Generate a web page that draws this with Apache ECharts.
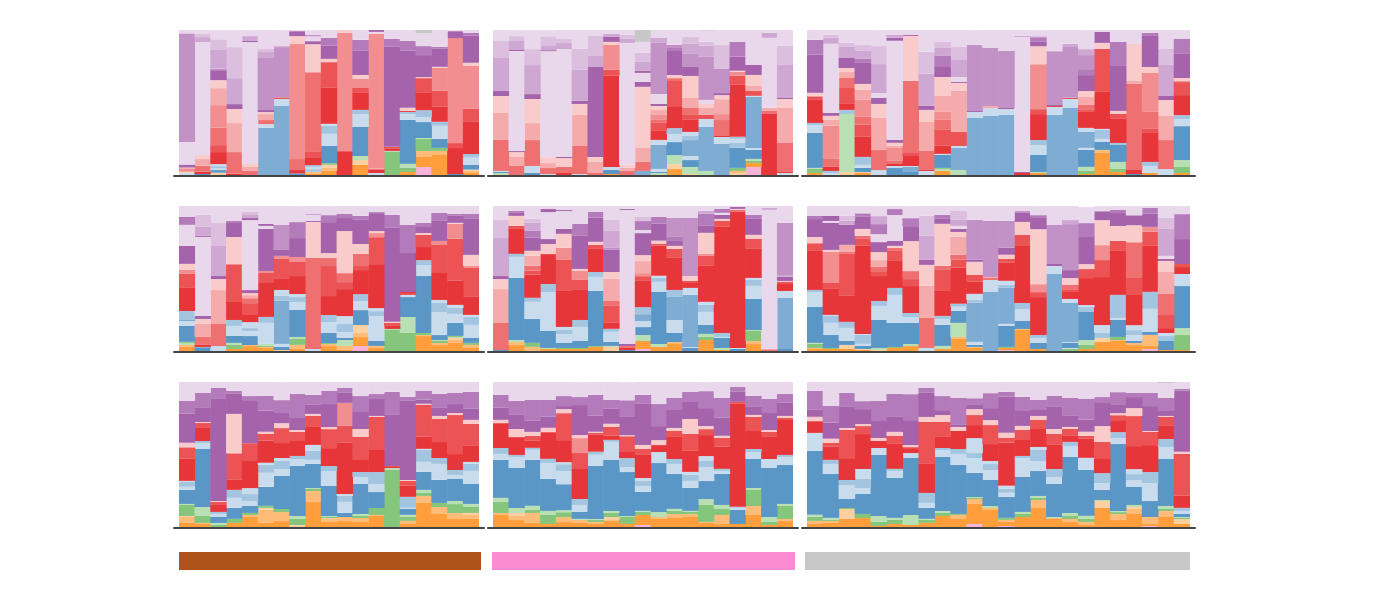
<!DOCTYPE html>
<html><head><meta charset="utf-8">
<script src="https://cdn.jsdelivr.net/npm/echarts@6/dist/echarts.min.js"></script>
<style>html,body{margin:0;padding:0;background:#fff}#chart{width:1400px;height:600px}</style>
</head><body><div id="chart"></div>
<script>
// taxon keys -> colours (family shades)
const taxonColors = {
  P:'#f8b4d8', O:'#ff9e3b', LO:'#ffbb78', PE:'#fdd0a2', G:'#86c57c', LG:'#b9dfb4',
  DB:'#5b97c6', MB:'#7facd2', LB:'#a3c5e0', PB:'#c8dcee',
  R1:'#e6363a', R2:'#eb5354', R3:'#ef7071', R4:'#f28e8f', R5:'#f5abab', R6:'#f9cbcb',
  U1:'#a563ac', U2:'#b47bbb', U3:'#c291c6', U4:'#cfa7d3', U5:'#dcbfdf', U6:'#e9d8eb', GR:'#c7c7c7'
};

// each bar: segments bottom -> top as [taxon, percent, taxon, percent, ...]
const panel1 = [
 ['PB',1.5,'PE',0.7,'R4',2,'R5',1,'U1',2,'U6',15.5,'U3',74.7,'U5',1,'U6',2],
 ['DB',0.7,'R1',1.6,'R3',4.1,'R5',4.6,'R6',2.8,'U6',77.9,'U4',3.4,'U5',2.1,'U6',2.8],
 ['PE',1.6,'DB',1.8,'PB',1.1,'LB',1.6,'PB',1.4,'R1',8.3,'R2',4.8,'R3',12,'R4',15.6,'R5',11.7,'R6',5.5,'U1',6.9,'U3',1.1,'U4',13.3,'U5',6.9,'U6',6.2],
 ['R1',0.9,'R3',14.9,'R5',20,'R6',9.7,'U1',3.4,'U4',17.9,'U5',21.4,'U6',11.7],
 ['R3',2.8,'R5',2.8,'R6',2,'U6',84.1,'U1',0.7,'U4',3.4,'U6',4.1],
 ['MB',32.6,'PB',2.5,'R3',2.8,'R5',4.1,'R6',1.4,'U1',1.4,'U3',35.9,'U4',4.1,'U5',2.1,'U6',13.1],
 ['MB',47.6,'PB',4.8,'R2',1.1,'U3',34.7,'U4',0.7,'U6',11],
 ['DB',1.1,'R1',2.3,'R3',7.6,'R4',79.3,'R6',5.5,'U1',3.4,'U6',0.7],
 ['O',1.1,'LO',1.1,'LB',1.8,'PB',1.4,'LB',1.4,'R1',5.5,'R2',4.1,'R3',54.5,'R6',19.3,'U1',2.1,'U6',3.4,'U1',0.7,'U6',3.4],
 ['O',2.8,'LO',2.1,'PE',2.1,'G',1.1,'DB',12,'PB',8.3,'LB',5.5,'PB',1.4,'R1',24.8,'R2',17.2,'R3',0.7,'R6',2.1,'U1',9,'U2',5.5,'U6',5.5],
 ['R1',15.9,'R2',0.7,'R4',81.4,'R6',2.1],
 ['O',6.9,'PE',3.4,'LG',2.8,'DB',20,'PB',9,'LB',2.8,'R1',11.7,'R2',3.4,'R4',6.2,'R6',2.8,'U1',16.6,'U2',7.6,'U6',6.9],
 ['PB',1.4,'R1',2.1,'R3',0.9,'R4',92.9,'U6',1.4,'U1',1.3],
 ['G',15.9,'LG',0.7,'R1',1.4,'R2',1.4,'U1',69,'U2',5.5,'U6',6.2],
 ['O',2.1,'G',2.8,'LG',2.8,'DB',30.3,'PB',4.1,'LB',1.4,'R1',0.7,'R6',2.1,'U1',39.3,'U2',6.9,'U6',7.6],
 ['P',5.5,'O',6.9,'LO',4.1,'G',8.3,'LG',0.7,'DB',11,'PB',3.4,'LB',4.8,'R1',12.4,'R2',9.7,'R6',0.7,'U1',15.2,'U2',6.2,'U6',9,'GR',2.1],
 ['O',13.8,'LO',2.8,'G',2.1,'DB',6.2,'PB',9,'LB',2.8,'R1',10.3,'R2',11,'R4',15.9,'R6',0.7,'U1',12.4,'U2',1.4,'U6',11.7],
 ['DB',0.7,'R1',17.9,'R2',3.4,'R4',72.4,'U1',4.8,'U6',0.7],
 ['O',1.4,'LO',1.4,'PE',0.9,'DB',3.2,'PB',5.1,'LB',2.5,'R1',22.1,'R2',9,'R4',29.7,'R6',2.1,'U1',18.6,'U2',2.1,'U6',2.1]
];
const panel2 = [
 ['LG',1.4,'DB',0.7,'PB',0.7,'R3',21.4,'R5',18.6,'R6',11.7,'U1',3.4,'U4',22.8,'U5',11.7,'U6',7.6],
 ['R3',6.2,'R5',6.2,'R6',3.4,'U1',0.7,'U6',69,'U1',0.7,'U4',6.2,'U5',3.4,'U6',4.1],
 ['DB',1.4,'PB',4.8,'R3',17.9,'R5',11.7,'R6',16.6,'U1',3.4,'U4',20,'U5',11,'U6',13.1],
 ['PB',0.7,'R3',4.1,'R5',3.4,'R6',4.1,'U6',73.1,'U1',0.7,'U4',3.4,'U5',6.2,'U6',4.1],
 ['R1',1.4,'R3',4.1,'R6',6.2,'U1',0.7,'U6',74.5,'U4',4.1,'U5',2.8,'U6',6.2],
 ['PB',0.7,'R3',19.3,'R5',21.4,'R6',7.6,'U1',2.1,'U4',21.4,'U5',14.5,'U6',13.1],
 ['R3',1.4,'R5',7.6,'R6',3.4,'U1',62.1,'U4',7.6,'U5',13.8,'U6',4.1],
 ['O',0.7,'DB',2.8,'PB',2.1,'R1',62.8,'R2',4.1,'R4',17.2,'R6',2.1,'U1',3.4,'U4',2.1,'U6',2.8],
 ['R3',2.8,'R5',2.1,'R6',2.1,'U6',84.1,'U4',2.8,'U5',2.8,'U6',3.4],
 ['MB',2.8,'R3',6.2,'R5',9.7,'R6',42.1,'U1',3.4,'U6',6.2,'U1',1.4,'U4',6.2,'U5',6.2,'U6',7.6,'GR',8.3],
 ['LG',1.4,'DB',0.7,'PB',2.1,'MB',16.6,'PB',3.4,'R1',6.2,'R2',5.5,'R3',2.1,'R4',3.4,'R5',3.4,'R6',2.8,'U1',1.4,'U6',6.9,'U3',35.2,'U4',3.4,'U6',5.5],
 ['O',4.1,'PE',3.4,'LG',6.2,'DB',9,'PB',5.5,'LB',4.1,'R1',15.2,'R2',17.9,'R3',1.4,'R6',2.1,'U1',16.6,'U2',2.1,'U3',2.1,'U6',10.3],
 ['PE',0.7,'LG',4.8,'DB',4.8,'PB',2.8,'MB',11,'LB',2.8,'PB',2.8,'R1',8.3,'R2',3.4,'R3',4.8,'R5',6.9,'R6',15.2,'U1',6.2,'U3',9,'U4',6.9,'U5',4.8,'U6',4.8],
 ['LG',2.8,'MB',30.3,'PB',5.5,'R2',2.8,'R5',4.8,'R6',2.8,'U6',2.8,'U3',29.7,'U4',7.6,'U5',2.8,'U6',7.6,'GR',0.7],
 ['MB',21.4,'PB',4.8,'R1',0.7,'R3',11,'R4',4.1,'R5',10.3,'R6',2.8,'U1',1.4,'U3',16.6,'U5',16.6,'U6',10.4],
 ['PE',1.4,'LO',1.4,'G',2.1,'DB',13.8,'LB',3.4,'PB',2.8,'LB',1.4,'R1',35.9,'R2',6.2,'R4',2.8,'R6',0.7,'U1',9.7,'U2',10.3,'U6',8.3],
 ['P',5.5,'O',2.8,'G',1.4,'LG',1.4,'DB',6.2,'PB',1.4,'MB',35.2,'PB',0.7,'R2',3.4,'R5',3.4,'R6',7.6,'U1',6.9,'U6',24.1],
 ['R1',42.1,'R3',2.1,'R5',2.1,'U6',48.3,'U4',3.4,'U6',2.1],
 ['PB',1.4,'R1',0.7,'R3',20,'R5',24.1,'R6',6.2,'U1',0.7,'U4',22.8,'U5',13.1,'U6',11]
];
const panel3 = [
 ['O',1.4,'G',2.8,'LG',0.7,'DB',24.1,'PB',5.5,'LB',1.4,'R1',15.9,'R2',2.1,'R4',0.7,'R6',2.1,'U1',26.2,'U2',10.3,'U6',6.9],
 ['PB',1.4,'LB',1.4,'R1',2.8,'R3',5.5,'R4',22.8,'R5',4.1,'R6',2.8,'U1',2.1,'U6',47.6,'U4',4.1,'U5',2.1,'U6',3.4],
 ['PE',2.1,'LG',40,'LB',2.8,'R1',4.1,'R2',11,'R3',6.9,'R5',4.1,'R6',2.8,'U1',6.9,'U4',7.6,'U5',2.8,'U6',9],
 ['O',1.4,'PE',0.7,'DB',2.8,'PB',2.1,'LB',5.5,'R1',13.8,'R2',8.3,'R3',5.5,'R4',11.7,'R5',6.9,'R6',4.1,'U1',14.5,'U2',2.8,'U4',5.5,'U5',4.1,'U6',10.3],
 ['PB',3.4,'R3',13.8,'R5',22.1,'R6',9.7,'U1',4.1,'U6',3.4,'U4',20,'U5',12.4,'U6',11],
 ['DB',4.8,'PB',1.4,'R1',1.4,'R3',2.1,'R4',9,'R5',1.4,'R6',2.1,'U1',2.1,'U6',68.3,'U1',2.1,'U4',2.1,'U6',3.4],
 ['DB',2.1,'MB',3.4,'PB',0.7,'R1',6.9,'R2',2.1,'R3',49.7,'R6',31,'U1',0.7,'U6',3.4],
 ['PB',2.8,'R1',0.7,'R3',13.1,'R5',20,'R6',8.3,'U1',2.8,'U4',22.1,'U5',15.2,'U6',15.2],
 ['O',2.8,'LG',1.4,'G',0.7,'DB',9,'PB',0.7,'R1',5.5,'R2',11,'R3',6.9,'R4',5.5,'R5',11,'R6',13.1,'U1',6.9,'U2',7.6,'U4',5.5,'U5',4.1,'U6',8.3],
 ['LG',3.4,'MB',15.2,'PB',1.4,'R2',9.7,'R5',28.3,'R6',5.5,'U1',0.7,'U6',3.4,'U4',11.7,'U5',9,'U6',11.7],
 ['MB',39.3,'PB',4.1,'U1',0.7,'U3',45.5,'U6',10.3],
 ['MB',40.7,'PB',5.5,'R5',1.4,'U3',40,'U6',12.4],
 ['MB',41.4,'PB',4.1,'U1',0.7,'U3',39.3,'U6',14.5],
 ['R1',1.4,'U1',0.7,'U6',93.1,'U4',0.7,'U6',4.1],
 ['O',1.4,'LG',0.7,'DB',11.7,'PB',6.9,'LB',3.4,'R1',17.9,'R2',3.4,'R4',31,'R6',12.4,'U1',3.4,'U2',2.8,'U4',0.7,'U6',4.1],
 ['MB',41.4,'PB',5.5,'R2',0.7,'U1',0.7,'U3',36.6,'U4',0.7,'U6',14.5],
 ['MB',46.2,'PB',6.2,'R2',0.7,'U4',0.7,'U3',34.5,'U4',2.1,'U6',9.7],
 ['O',0.7,'G',2.1,'LG',2.8,'DB',11.7,'PB',1.4,'MB',11,'PB',2.8,'R1',11,'R2',1.4,'R3',3.4,'R5',5.5,'R6',4.1,'U1',11,'U2',4.1,'U3',9.7,'U4',4.1,'U6',13.1],
 ['O',15.2,'LO',2.1,'DB',5.5,'PB',2.1,'LB',6.2,'PB',0.7,'R1',25.5,'R2',29.7,'R6',4.1,'U1',7.6,'U6',1.4],
 ['O',2.1,'G',2.1,'LG',4.8,'DB',11.7,'LB',1.4,'R1',16.6,'R2',3.4,'R6',2.1,'U1',31,'U2',16.6,'U6',8.3],
 ['DB',0.7,'R1',2.8,'R3',59.3,'R5',2.1,'R6',25.5,'U6',9.7],
 ['O',1.4,'PB',4.8,'LB',2.8,'R1',20,'R2',2.8,'R3',11.7,'R4',26.9,'R6',4.1,'U1',21.4,'U2',2.1,'U6',2.1],
 ['PB',4.1,'R3',20,'R5',16.6,'R6',11,'U1',2.8,'U4',21.4,'U5',11,'U6',13.1],
 ['O',1.4,'G',4.1,'LG',4.8,'DB',23.4,'PB',4.8,'LB',2.8,'R1',13.8,'R2',9,'R4',0.7,'R6',2.1,'U1',16.6,'U2',10.3,'U6',6.2]
];
const panel4 = [
 ['O',2.8,'LO',1.4,'LG',1.4,'G',0.7,'DB',11,'PB',3.4,'MB',0.7,'LB',6.2,'R1',15.9,'R2',9.7,'R4',2.8,'R6',4.1,'U1',12.4,'U6',14.5,'U2',4.8,'U1',0.7,'U6',7.6],
 ['DB',2.1,'MB',0.7,'R1',1.4,'R3',5.5,'R5',9,'R6',3.4,'U1',2.1,'U6',54.5,'U1',0.7,'U4',6.2,'U5',8.3,'U6',6.2],
 ['PB',3.4,'R3',15.2,'R5',23.4,'R6',7.6,'U1',2.1,'U4',20.7,'U5',15.9,'U6',11.7],
 ['O',1.4,'G',2.8,'LG',1.4,'DB',4.8,'PB',6.9,'LB',4.1,'R1',12.4,'R2',25.5,'R4',0.7,'R6',18.6,'U1',9.7,'U2',1.4,'U6',10.3],
 ['O',3.4,'LO',0.7,'DB',6.2,'PB',3.4,'LB',2.1,'PB',4.1,'R1',5.5,'R2',7.6,'R3',3.4,'R5',2.1,'R6',1.4,'U1',2.1,'U6',48.3,'U1',1.4,'U4',2.1,'U5',2.1,'U6',4.1],
 ['O',2.1,'LO',0.7,'G',0.7,'LG',1.4,'PB',14.5,'LB',4.1,'R1',23.4,'R2',6.9,'R4',1.4,'U1',29,'U6',2.1,'U1',1.4,'U6',12.4],
 ['PE',0.7,'DB',2.1,'PB',2.1,'MB',29.7,'LB',3.4,'PB',4.1,'R1',7.6,'R2',13.8,'R4',2.1,'U1',4.1,'U3',17.2,'U6',13.1],
 ['O',1.4,'LO',2.8,'G',4.1,'LG',1.4,'DB',18.6,'PB',5.5,'LB',3.4,'PB',2.1,'R1',12.4,'R2',9.7,'R4',3.4,'U1',13.1,'U2',11,'U6',11],
 ['PB',1.4,'R3',62.8,'R6',24.8,'U1',0.7,'U6',4.1,'U4',0.7,'U6',5.5],
 ['O',3.4,'LO',1.4,'G',0.7,'DB',6.9,'PB',7.6,'LB',4.8,'R1',13.1,'R2',20.7,'R3',5.5,'R6',3.4,'U1',21.4,'U2',4.8,'U6',6.2],
 ['O',0.7,'LO',2.8,'LG',4.1,'DB',1.4,'PB',4.1,'LB',5.5,'PB',5.5,'R1',18.6,'R2',4.8,'R3',6.2,'R6',29,'U1',9,'U2',2.8,'U6',5.5],
 ['P',3.4,'O',6.2,'LO',2.8,'PE',5.5,'DB',10.3,'PB',6.2,'LB',4.8,'R1',16.6,'R2',2.8,'R3',8.3,'R6',6.9,'U1',16.6,'U2',2.8,'U6',6.9],
 ['O',2.1,'LO',1.4,'DB',3.4,'PB',17.2,'LB',3.4,'PB',2.1,'R1',30.3,'R2',18.6,'R4',2.8,'R6',1.4,'U1',12.4,'U2',0.7,'U6',4.1],
 ['G',14.5,'LG',0.7,'R1',2.1,'R2',2.1,'R6',0.7,'U1',64.8,'U2',9,'U6',6.2],
 ['G',12.4,'LG',11,'DB',13.8,'PB',1.4,'R2',1.4,'R1',0.7,'U1',26.9,'U2',19.3,'U6',13.1],
 ['O',10.3,'LO',0.7,'G',1.4,'DB',39.3,'PB',7.6,'LB',3.4,'R1',9,'R2',8.3,'R6',1.4,'U1',4.1,'U2',2.8,'U6',11.7],
 ['O',4.1,'LO',1.4,'G',1.4,'LG',0.7,'DB',3.4,'PB',15.9,'LB',6.2,'PB',2.1,'R1',18.6,'R2',19.3,'R4',2.8,'U1',13.8,'U2',5.5,'U6',4.8],
 ['O',5.5,'LO',2.1,'PE',1.4,'LG',0.7,'G',0.7,'DB',9,'PB',6.2,'LB',4.1,'PB',2.1,'R1',16.6,'R2',29,'R4',10.3,'R6',0.7,'U1',4.8,'U2',1.4,'U6',5.5],
 ['O',2.1,'LO',2.1,'G',1.4,'DB',3.4,'PB',9,'LB',5.5,'PB',1.4,'R1',12.4,'R2',20,'R4',1.4,'R6',7.6,'U1',24.8,'U2',3.4,'U6',5.5]
];
const panel5 = [
 ['DB',0.7,'R3',18.6,'R5',23.4,'R6',6.9,'U1',2.1,'U4',26.2,'U5',12.4,'U6',9.7],
 ['O',4.1,'LO',2.1,'LG',1.4,'DB',42.8,'PB',14.5,'LB',2.1,'R1',17.2,'R2',2.1,'R6',6.9,'U1',2.1,'U2',1.4,'U6',3.4],
 ['LO',2.8,'G',2.8,'DB',16.6,'PB',11.7,'LB',2.8,'R1',15.9,'R2',2.8,'R3',3.4,'R5',6.9,'R6',3.4,'U1',9,'U2',4.8,'U4',5.5,'U5',2.8,'U6',9],
 ['O',1.4,'LG',0.7,'DB',11.7,'PB',26.9,'LB',5.5,'R1',20,'R2',0.7,'R6',6.9,'U1',3.4,'U6',18.6,'U1',2.1,'U6',2.1],
 ['O',1.4,'G',0.7,'DB',3.4,'PB',6.2,'LB',2.8,'PB',2.1,'R1',24.8,'R2',21.4,'R4',8.3,'R6',9.7,'U1',3.4,'U6',12.4,'U1',0.7,'U6',2.8],
 ['O',1.4,'G',0.7,'DB',4.8,'PB',9.7,'LB',4.8,'R1',20.7,'R2',6.9,'R4',6.2,'R6',1.4,'U1',22.8,'U2',8.3,'U6',12.4],
 ['O',2.8,'G',0.7,'DB',37.9,'PB',9.7,'LB',3.4,'R1',15.9,'R2',2.8,'R6',2.1,'U1',16.6,'U2',4.1,'U6',4.1],
 ['PE',2.8,'LG',0.7,'DB',2.8,'PB',6.9,'LB',2.1,'R1',4.1,'R2',11.7,'R3',3.4,'R5',15.2,'R6',4.8,'U1',15.2,'U3',1.4,'U4',11.7,'U5',7.6,'U6',9.7],
 ['DB',0.7,'R1',1.4,'R3',1.4,'U1',1.4,'U6',92.4,'U1',0.7,'U6',2.1],
 ['P',1.4,'O',5.5,'LG',4.1,'DB',5.5,'PB',4.1,'MB',4.8,'LB',4.8,'R1',18.6,'R2',2.8,'R4',2.1,'R5',8.3,'R6',4.1,'U1',15.2,'U6',2.1,'U2',6.2,'U5',2.8,'U6',7.6],
 ['O',2.8,'LG',2.1,'DB',35.9,'PB',6.9,'LB',2.8,'PB',1.4,'R1',20.7,'R2',1.4,'R6',2.1,'U1',11.7,'U2',4.8,'U6',7.6],
 ['O',4.8,'LO',1.4,'DB',6.2,'PB',9,'MB',15.9,'LB',4.8,'R1',22.1,'R2',6.2,'R6',2.1,'U1',3.4,'U2',2.8,'U3',13.1,'U6',8.3],
 ['DB',2.1,'PB',0.7,'MB',35.9,'PB',4.8,'R1',3.4,'R2',1.4,'R6',3.4,'U3',40,'U6',8.3],
 ['O',7.6,'G',2.1,'LG',2.1,'DB',6.2,'PB',9,'LB',4.8,'PB',2.1,'R1',24.8,'R2',6.9,'R4',1.4,'R6',14.5,'U1',4.8,'U2',8.3,'U4',2.1,'U6',3.4],
 ['O',0.7,'LG',1.4,'DB',6.9,'PB',0.7,'LB',2.8,'R1',73.1,'R2',4.1,'R6',1.4,'U1',2.8,'U6',1.4,'U2',2.8,'U6',2.1],
 ['DB',1.4,'PB',0.7,'R1',93.8,'R3',1.4,'R6',0.7,'U1',1.4,'U6',0.7],
 ['O',4.8,'LO',2.1,'G',6.9,'LG',0.7,'DB',21.4,'PB',9,'LB',4.1,'PB',1.4,'R1',20,'R2',6.9,'R6',2.8,'U1',11,'U2',2.8,'U6',6.2],
 ['R3',0.7,'R5',0.7,'U6',95.9,'U4',1.4,'U6',1.4],
 ['DB',1.4,'MB',35.2,'PB',4.8,'R1',4.8,'R2',1.4,'R6',0.7,'U1',2.8,'U4',1.4,'U3',35.9,'U6',11.7]
];
const panel6 = [
 ['O',1.4,'LO',0.7,'G',2.8,'LG',0.7,'DB',24.8,'PB',10.3,'LB',1.4,'R1',26.9,'R2',4.8,'R4',0.7,'R6',4.1,'U1',12.4,'U2',2.1,'U6',6.9],
 ['O',1.4,'G',0.7,'DB',9,'PB',8.3,'LB',4.8,'PB',0.7,'R1',17.9,'R2',4.1,'R4',21.4,'R6',1.4,'U1',18.6,'U6',1.4,'U1',3.4,'U6',6.9],
 ['O',1.4,'PE',2.8,'DB',2.8,'PB',9,'LB',4.1,'R1',17.9,'R2',29,'R3',1.4,'R5',4.8,'U1',13.8,'U4',2.8,'U5',3.4,'U6',6.9],
 ['O',0.7,'PE',0.7,'DB',2.1,'PB',1.4,'LB',6.2,'PB',0.7,'R1',60.7,'R2',4.8,'R3',2.1,'R6',4.8,'U1',8.3,'U2',2.1,'U4',0.7,'U6',4.8],
 ['PE',0.7,'LG',1.4,'DB',19.3,'PB',9.7,'LB',3.4,'R1',17.2,'R2',2.8,'R3',3.4,'R5',4.8,'R6',5.5,'U1',6.9,'U6',5.5,'U2',6.9,'U4',5.5,'U6',6.9],
 ['O',2.1,'G',0.7,'DB',16.6,'PB',19.3,'LB',4.8,'R1',18.6,'R2',6.9,'R3',2.1,'R6',1.4,'U1',3.4,'U6',17.9,'U2',4.1,'U6',2.1],
 ['O',3.4,'LG',1.4,'DB',14.5,'PB',4.1,'LB',2.8,'R1',18.6,'R2',4.8,'R3',5.5,'R6',20.7,'U1',10.3,'U2',5.5,'U6',8.3],
 ['PB',2.1,'R3',20.7,'R5',22.1,'R6',14.5,'U1',3.4,'U4',16.6,'U5',13.8,'U6',6.8],
 ['O',1.4,'LG',2.1,'DB',14.5,'PB',4.1,'LB',2.1,'R1',17.2,'R2',14.5,'R3',2.8,'R6',29,'U1',3.4,'U2',2.8,'U6',6.2],
 ['O',8.3,'LO',1.4,'LG',9.7,'DB',8.3,'PB',2.8,'LB',2.1,'R1',24.8,'R2',5.5,'R3',3.4,'R5',12.4,'R6',3.4,'U1',2.1,'U6',2.1,'U4',4.1,'U5',6.2,'U6',3.4],
 ['O',2.1,'LO',0.7,'DB',1.4,'PB',2.1,'MB',26.9,'LB',2.1,'PB',4.1,'R1',8.3,'R2',4.8,'R6',9,'U1',1.4,'U3',27.6,'U6',9.7],
 ['MB',40.7,'PB',8.3,'R3',1.4,'R5',0.7,'U3',38.6,'U6',10.3],
 ['P',0.7,'O',1.4,'G',0.7,'DB',14.5,'PB',1.4,'MB',24.8,'LB',2.1,'PB',2.8,'R1',12.4,'R2',2.8,'R6',2.8,'U1',4.8,'U3',18.6,'U6',10.3],
 ['O',14.5,'LO',0.7,'DB',5.5,'PB',8.3,'LB',4.1,'R1',39.3,'R2',7.6,'R6',9,'U1',6.2,'U3',1.4,'U6',3.4],
 ['O',1.4,'DB',4.1,'PB',3.4,'LB',2.1,'R1',26.2,'R2',3.4,'R4',5.5,'R6',37.9,'U1',8.3,'U2',1.4,'U6',6.2],
 ['MB',53.1,'PB',5.5,'U1',1.4,'U3',26.9,'U6',13.1],
 ['G',1.4,'PB',0.7,'DB',3.4,'PB',0.7,'MB',26.9,'PB',2.8,'R1',4.8,'R2',1.4,'R3',3.4,'R6',4.8,'U1',5.5,'U3',31.7,'U4',2.8,'U6',9.7],
 ['O',1.4,'G',2.8,'LG',3.4,'DB',19.3,'LB',3.4,'PB',1.4,'R1',18.6,'R2',6.2,'R6',3.4,'U1',19.3,'U2',9,'U6',11],
 ['O',6.2,'PE',2.8,'LB',3.4,'PB',5.5,'R1',33.1,'R2',11.7,'R4',10.3,'R6',17.2,'U1',6.2,'U6',3.4],
 ['O',6.9,'LO',0.7,'G',2.1,'DB',11.7,'PB',1.4,'LB',15.9,'R1',30.3,'R2',6.9,'R6',10.3,'U1',9,'U2',2.1,'U6',2.8],
 ['O',4.1,'LO',1.4,'DB',1.4,'PB',4.1,'LB',3.4,'PB',3.4,'R1',21.4,'R2',11.7,'R3',24.1,'R6',11.7,'U1',6.9,'U6',6.2],
 ['P',1.4,'O',2.1,'LO',7.6,'DB',2.1,'PB',15.9,'LB',11.7,'R1',31.7,'R2',9.7,'R4',3.4,'U1',9,'U2',4.1,'U6',1.4],
 ['O',0.7,'DB',6.2,'LB',3.4,'PB',2.1,'R1',3.4,'R2',9,'R3',14.5,'R5',15.2,'R6',7.6,'U1',1.4,'U6',2.1,'U4',18.6,'U5',7.6,'U6',8.3],
 ['O',0.7,'G',10.3,'LG',4.8,'DB',29,'PB',8.3,'R1',4.8,'R2',2.1,'U1',17.2,'U2',17.2,'U6',5.5]
];
const panel7 = [
 ['O',2.8,'LO',4.1,'PE',0.7,'G',7.6,'LG',0.7,'DB',9.7,'PB',2.1,'LB',3.4,'PB',0.7,'R1',15.2,'R2',7.6,'R4',0.7,'R6',2.8,'U1',20,'U2',9,'U6',13.1],
 ['O',2.1,'LO',0.7,'G',4.8,'LG',6.2,'DB',40,'PB',4.1,'LB',1.4,'R1',9,'R2',3.4,'R6',0.7,'U1',9.7,'U2',10.3,'U6',7.6],
 ['G',1.4,'LG',1.4,'DB',4.1,'PB',2.1,'LB',1.4,'R1',4.8,'R2',2.1,'R6',0.7,'U1',70.3,'U2',7.6,'U6',4.1],
 ['O',2.8,'G',2.8,'DB',7.6,'PB',6.9,'LB',5.5,'R1',6.9,'R2',17.9,'R4',0.7,'R6',26.9,'U1',13.8,'U2',2.1,'U6',6.2],
 ['O',6.9,'LO',1.4,'G',1.4,'DB',4.8,'PB',3.4,'LB',4.8,'PB',4.1,'R1',19.3,'R2',11.7,'U1',29.7,'U2',2.8,'U6',9.7],
 ['O',2.8,'LO',9,'PE',1.4,'G',1.4,'DB',13.1,'PB',9.7,'LB',5.5,'PB',1.4,'R1',15.2,'R2',4.8,'R6',1.4,'U1',14.5,'U2',10.3,'U6',9.7],
 ['O',4.1,'LO',6.2,'G',2.1,'DB',22.8,'PB',4.8,'LB',5.5,'PB',2.1,'R1',10.3,'R2',10.3,'R6',3.4,'U1',7.6,'U2',8.3,'U6',12.4],
 ['PE',1.4,'G',4.1,'LG',2.1,'DB',34.5,'PB',4.8,'LB',2.1,'R1',10.3,'R2',6.2,'R6',1.4,'U1',8.3,'U2',16.6,'U6',8.3],
 ['O',17.2,'LO',7.6,'G',1.4,'LG',0.7,'DB',16.6,'PB',2.8,'LB',6.2,'PB',4.1,'R1',12.4,'R2',7.6,'R6',1.4,'U1',6.2,'U2',6.9,'U6',9],
 ['O',3.4,'LO',2.1,'PE',0.7,'G',0.7,'LG',0.7,'DB',20.7,'PB',10.3,'LB',3.4,'R1',12.4,'R2',13.1,'R6',1.4,'U1',15.9,'U2',9,'U6',6.2],
 ['O',4.1,'LO',2.8,'DB',2.8,'PB',7.6,'LB',4.1,'PB',1.4,'R1',35.2,'R2',11.7,'R4',15.9,'U1',6.9,'U2',3.4,'U6',4.1],
 ['O',3.4,'LO',2.8,'G',1.4,'LG',1.4,'DB',20.7,'PB',4.8,'LB',3.4,'R1',8.3,'R2',15.9,'R6',5.5,'U1',11.7,'U2',11,'U6',9.7],
 ['O',7.6,'LO',0.7,'G',4.8,'DB',11,'PB',5.5,'LB',8.3,'R1',15.2,'R2',22.8,'R6',0.7,'U1',11.7,'U2',3.4,'U6',8.3],
 ['G',39.3,'LG',1.4,'R1',0.7,'R2',0.7,'U1',35.2,'U2',15.9,'U6',6.9],
 ['O',2.1,'LO',2.1,'G',2.8,'LG',1.4,'DB',4.1,'PB',0.7,'LB',7.6,'R1',7.6,'R2',3.4,'R6',0.7,'U1',54.5,'U2',2.8,'U6',10.3],
 ['O',16.6,'LO',4.8,'G',2.1,'LG',2.1,'DB',12.4,'PB',6.9,'LB',8.3,'PB',0.7,'R1',8.3,'R2',22.1,'R6',0.7,'U1',2.8,'U2',6.2,'U6',6.2],
 ['O',9,'LO',4.8,'G',2.8,'DB',15.9,'PB',11,'LB',4.1,'R1',11,'R2',15.9,'R6',2.1,'U1',5.5,'U2',9.7,'U6',8.3],
 ['O',5.5,'LO',4.1,'G',6.2,'LG',2.1,'DB',15.2,'PB',2.8,'LB',3.4,'R1',11,'R2',26.9,'R6',1.4,'U1',6.2,'U2',7.6,'U6',7.6],
 ['O',5.5,'LO',2.8,'PE',1.4,'G',4.1,'LG',2.1,'DB',13.8,'PB',9,'LB',4.8,'PB',1.4,'R1',11,'R2',15.2,'R6',2.8,'U1',7.6,'U2',11.7,'U6',6.9]
];
const panel8 = [
 ['O',8.3,'LO',1.4,'G',7.6,'LG',2.8,'DB',26.2,'PB',4.1,'LB',4.1,'R1',16.6,'R2',0.7,'R6',2.1,'U1',8.3,'U2',9,'U6',9],
 ['O',4.8,'LO',2.8,'PE',2.1,'LG',3.4,'DB',27.6,'PB',7.6,'LB',1.4,'R1',11.7,'R2',0.7,'R6',5.5,'U1',9.7,'U2',9.7,'U6',13.1],
 ['O',2.8,'LO',6.9,'G',2.1,'LG',2.8,'DB',31.7,'PB',6.9,'LB',1.4,'R1',4.8,'R2',3.4,'R6',2.8,'U1',7.6,'U2',14.5,'U6',12.4],
 ['O',2.1,'G',6.2,'LG',2.8,'DB',22.1,'PB',11,'LB',2.8,'R1',17.9,'R2',0.7,'R6',2.8,'U1',7.6,'U2',11.7,'U6',12.4],
 ['O',3.4,'LO',3.4,'G',3.4,'LG',1.4,'DB',17.9,'PB',9,'LB',4.8,'PB',1.4,'R1',15.2,'R2',18.6,'R6',2.8,'U1',2.1,'U2',6.9,'U6',9.7],
 ['O',2.8,'LO',2.1,'LG',0.7,'DB',4.8,'PB',4.8,'LB',4.1,'R1',20.7,'R2',11,'R4',10.3,'R6',2.1,'U1',20.7,'U2',5.5,'U6',10.3],
 ['O',2.1,'LO',1.4,'G',1.4,'LG',0.7,'DB',36.6,'PB',7.6,'LB',2.1,'R1',11.7,'R2',1.4,'R6',0.7,'U1',11,'U2',14.5,'U6',9],
 ['O',4.1,'LO',0.7,'PE',2.1,'G',2.8,'LG',1.4,'DB',35.2,'PB',12.4,'LB',1.4,'R1',2.8,'R2',6.2,'R6',2.1,'U1',10.3,'U2',6.2,'U6',12.4],
 ['O',2.1,'G',4.8,'LG',0.7,'DB',30.3,'PB',3.4,'LB',6.2,'R1',4.8,'R2',10.3,'R6',0.7,'U1',13.1,'U2',11,'U6',12.4],
 ['P',1.4,'O',6.9,'G',2.1,'LG',0.7,'DB',13.1,'PB',4.1,'LB',3.4,'PB',2.1,'R1',15.9,'R2',4.1,'R6',2.8,'U1',28.3,'U2',6.2,'U6',9],
 ['O',5.5,'LO',1.4,'LG',3.4,'DB',33.8,'PB',7.6,'R1',4.8,'R6',3.4,'U1',9.7,'U2',15.2,'U6',15.2],
 ['O',6.2,'LO',2.8,'G',2.1,'LG',1.4,'DB',24.1,'PB',6.9,'LB',3.4,'R1',15.2,'R2',4.1,'R6',2.1,'U1',12.4,'U2',8.3,'U6',11],
 ['O',6.9,'LO',2.1,'G',1.4,'LG',0.7,'DB',15.9,'PB',4.8,'LB',4.1,'PB',2.1,'R1',14.5,'R2',11.7,'R6',10.3,'U1',11.7,'U2',6.9,'U6',6.9],
 ['O',2.8,'LO',0.7,'G',11.7,'LG',4.1,'DB',12.4,'PB',9.7,'LB',4.1,'PB',3.4,'R1',14.5,'R2',4.1,'R6',2.1,'U1',12.4,'U2',11.7,'U6',6.2],
 ['O',2.1,'LO',6.2,'G',4.1,'LG',2.8,'DB',21.4,'PB',2.1,'LB',1.4,'R1',15.2,'R2',6.2,'R6',1.4,'U1',12.4,'U2',13.8,'U6',11],
 ['O',2.1,'DB',9.7,'PB',1.4,'LB',0.7,'R1',71,'R2',1.4,'U1',6.9,'U2',3.4,'U6',3.4],
 ['O',8.3,'LO',6.2,'G',11,'LG',1.4,'DB',20,'PB',4.8,'LB',2.1,'R1',12.4,'R2',9.7,'R6',1.4,'U1',5.5,'U2',7.6,'U6',9.7],
 ['O',1.4,'G',2.1,'LG',3.4,'DB',33.8,'PB',6.2,'R1',15.2,'R2',3.4,'R6',1.4,'U1',11.7,'U2',9.7,'U6',11.7],
 ['O',4.1,'LO',1.4,'G',9,'LG',1.4,'DB',26.9,'PB',5.5,'LB',1.4,'R1',24.1,'R2',1.4,'R6',1.4,'U1',9,'U2',6.2,'U6',8.3]
];
const panel9 = [
 ['O',2.1,'LO',2.1,'G',2.8,'LG',1.4,'DB',44.1,'PB',12.4,'R1',7.6,'R2',0.7,'R6',2.8,'U1',4.8,'U2',13.1,'U6',6.2],
 ['O',2.8,'LO',1.4,'G',0.7,'LG',1.4,'DB',30.3,'PB',6.9,'LB',2.8,'R1',9,'R2',2.8,'R6',2.8,'U1',11,'U2',11.7,'U6',16.6],
 ['O',5.5,'PE',6.9,'G',0.7,'DB',6.2,'PB',9.7,'LB',3.4,'R1',14.5,'R2',20,'R6',1.4,'U1',14.5,'U2',9.7,'U6',7.6],
 ['O',6.2,'G',2.8,'DB',13.8,'PB',4.1,'LB',6.2,'PB',6.9,'R1',24.1,'R2',5.5,'R6',1.4,'U1',10.3,'U2',5.5,'U6',13.1],
 ['O',0.7,'G',2.8,'LG',4.1,'DB',42.1,'PB',4.8,'R1',4.8,'R6',2.1,'U1',11.7,'U2',13.8,'U6',13.1],
 ['O',2.1,'G',2.8,'LG',1.4,'DB',27.6,'PB',4.8,'LB',1.4,'R1',17.2,'R2',5.5,'R6',2.8,'U1',10.3,'U2',15.9,'U6',8.3],
 ['O',1.4,'LG',6.9,'DB',39.3,'PB',3.4,'R1',3.4,'R2',0.7,'R6',1.4,'U1',17.2,'U2',17.9,'U6',8.3],
 ['O',2.8,'G',2.1,'LG',0.7,'DB',7.6,'PB',3.4,'LB',6.9,'R1',20,'R2',29,'R6',3.4,'U1',16.6,'U2',3.4,'U6',4.1],
 ['O',7.6,'G',2.1,'LG',1.4,'DB',37.2,'PB',4.8,'LB',1.4,'R1',7.6,'R2',10.3,'R6',4.8,'U1',3.4,'U2',9.7,'U6',9.7],
 ['O',5.5,'LO',2.8,'G',0.7,'DB',33.8,'PB',7.6,'LB',3.4,'R1',12.4,'R6',2.8,'U1',1.4,'U2',18.6,'U6',11],
 ['P',2.1,'O',13.8,'LO',3.4,'G',0.7,'LG',0.7,'DB',16.6,'PB',10.3,'LB',3.4,'PB',10.3,'R1',9,'R2',6.9,'R6',4.1,'U1',3.4,'U2',4.1,'U6',11],
 ['O',11.7,'LO',1.4,'LG',1.4,'DB',17.9,'PB',6.9,'LB',4.1,'PB',2.1,'R1',11.7,'R2',13.1,'R6',3.4,'U1',8.3,'U2',10.3,'U6',7.6],
 ['P',0.7,'O',2.8,'LO',1.4,'G',1.4,'DB',14.5,'PB',2.8,'LB',2.8,'PB',2.1,'R1',29.7,'R2',3.4,'R6',3.4,'U1',24.8,'U2',3.4,'U6',6.9],
 ['O',6.9,'G',2.1,'LG',1.4,'DB',24.1,'PB',13.1,'LB',1.4,'R1',11,'R2',6.9,'R6',2.8,'U1',10.3,'U2',9.7,'U6',10.3],
 ['O',13.1,'LO',5.5,'G',1.4,'LG',1.4,'DB',17.2,'PB',6.9,'LB',7.6,'PB',2.1,'R1',12.4,'R2',6.2,'R6',2.8,'U1',4.1,'U2',6.9,'U6',12.4],
 ['O',5.5,'LO',0.7,'LG',0.7,'DB',22.8,'PB',4.8,'LB',5.5,'R1',16.6,'R2',7.6,'R6',3.4,'U1',15.2,'U2',7.6,'U6',9.7],
 ['O',3.4,'LO',2.1,'G',2.1,'LG',2.1,'DB',38.6,'PB',7.6,'LB',2.8,'R1',4.1,'R2',4.8,'R6',1.4,'U1',7.6,'U2',12.4,'U6',11],
 ['O',1.4,'LO',2.1,'G',2.1,'LG',2.1,'DB',31.7,'PB',8.3,'R1',13.1,'R2',2.1,'R6',2.8,'U1',8.3,'U2',14.5,'U6',11.7],
 ['O',13.1,'PE',4.8,'LG',0.7,'DB',6.9,'PB',4.8,'LB',6.9,'R1',9.7,'R2',11.7,'R6',11,'U1',15.9,'U2',4.1,'U6',10.3],
 ['O',4.8,'LO',4.1,'G',1.4,'LG',0.7,'DB',46.2,'PB',4.1,'LB',4.1,'R1',8.3,'R2',3.4,'R6',1.4,'U1',6.2,'U2',8.3,'U6',6.9],
 ['O',9,'LO',3.4,'PE',1.4,'LG',1.4,'DB',12.4,'PB',4.8,'LB',4.1,'PB',3.4,'R1',15.9,'R2',20.7,'R6',5.5,'U1',7.6,'U2',2.8,'U6',7.6],
 ['P',0.7,'O',1.4,'LO',4.8,'DB',11,'PB',12.4,'LB',7.6,'R1',18.6,'R2',9,'R6',0.7,'U1',17.2,'U2',9,'U6',7.6],
 ['O',6.9,'LO',4.1,'G',1.4,'LG',2.1,'DB',32.4,'PB',8.3,'LB',5.5,'R1',9,'R2',6.2,'R6',0.7,'U1',3.4,'U2',9,'U6',10.3,'GR',0.7],
 ['O',2.1,'PE',3.4,'G',0.7,'LG',0.7,'DB',2.1,'PB',2.1,'LB',2.1,'R1',8.3,'R2',29,'R6',1.4,'U1',42.1,'U2',1.4,'U6',4.8]
];
const groupNames = ['Group A', 'Group B', 'Group C'];
const groupColors = ['#b0531a', '#f98bd3', '#c8c8c8'];
const groupBand = [1, 1, 1];

const panels = [panel1, panel2, panel3, panel4, panel5, panel6, panel7, panel8, panel9];
const colLayout = [{left:179, width:300}, {left:493, width:300}, {left:807, width:383}];
const bandLayout = [{left:179, width:302}, {left:492, width:303}, {left:805, width:385}];
const rowTops = [30, 206, 382];
const plotH = 145, ext = 5;

const grids = [], xAxes = [], yAxes = [], series = [];
let gi = 0;
panels.forEach((bars, p) => {
  const r = Math.floor(p / 3), c = p % 3;
  const L = colLayout[c];
  const n = bars.length;
  const bw = L.width / n;
  // bar grid
  grids.push({left: L.left, top: rowTops[r], width: L.width, height: plotH});
  xAxes.push({type:'category', gridIndex:gi, data: bars.map((b, i) => 'S' + (i + 1)),
    boundaryGap:true, show:false});
  yAxes.push({type:'value', gridIndex:gi, min:0, max:100, show:false});
  const segs = bars.map(b => { const s = []; for (let i = 0; i < b.length; i += 2) s.push([b[i], b[i + 1]]); return s; });
  const maxSlots = Math.max(...segs.map(s => s.length));
  for (let k = 0; k < maxSlots; k++) {
    series.push({type:'bar', xAxisIndex:gi, yAxisIndex:gi, stack:'s' + p, barWidth: bw + 0.6, silent:true,
      data: segs.map(s => s[k] ? {value:s[k][1], itemStyle:{color: taxonColors[s[k][0]]}} : 0)});
  }
  gi++;
  // baseline axis grid (slightly wider than the bars)
  grids.push({left: L.left - ext, top: rowTops[r], width: L.width + 2 * ext, height: plotH + 1});
  xAxes.push({type:'value', gridIndex:gi, min:0, max:1, z:5,
    axisLine:{show:true, onZero:false, lineStyle:{color:'#444', width:2}},
    axisTick:{show:false}, axisLabel:{show:false}, splitLine:{show:false}});
  yAxes.push({type:'value', gridIndex:gi, min:0, max:1, show:false});
  gi++;
});
groupNames.forEach((g, c) => {
  const B = bandLayout[c];
  grids.push({left:B.left, top:552, width:B.width, height:18});
  xAxes.push({type:'category', gridIndex:gi, data:[g], show:false});
  yAxes.push({type:'value', gridIndex:gi, min:0, max:1, show:false});
  series.push({type:'bar', xAxisIndex:gi, yAxisIndex:gi, barWidth:'100%', silent:true,
    data:[groupBand[c]], itemStyle:{color:groupColors[c]}});
  gi++;
});

const chart = echarts.init(document.getElementById('chart'), null, {renderer:'canvas'});
chart.setOption({animation:false, backgroundColor:'#ffffff', grid:grids, xAxis:xAxes, yAxis:yAxes, series:series});
</script>
</body></html>
